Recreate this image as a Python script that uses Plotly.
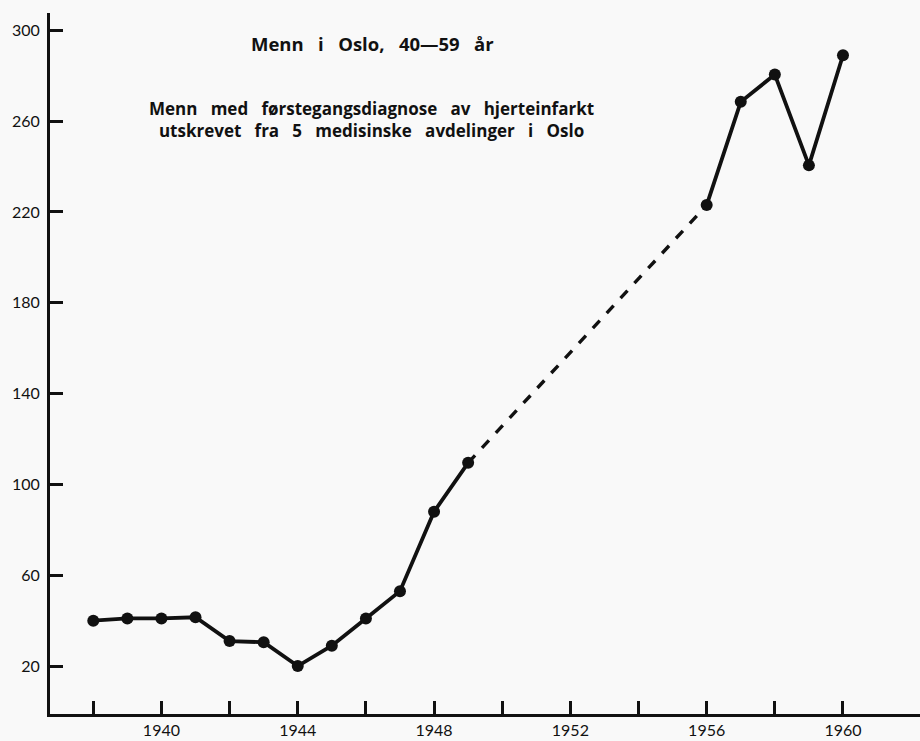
import plotly.graph_objects as go

years_a = [1938, 1939, 1940, 1941, 1942, 1943, 1944, 1945, 1946, 1947, 1948, 1949]
vals_a = [40, 41, 41, 41.5, 31, 30.5, 20, 29, 41, 53, 88, 109.5]
years_gap = [1949, 1956]
vals_gap = [109.5, 223]
years_b = [1956, 1957, 1958, 1959, 1960]
vals_b = [223, 268.5, 280.5, 240.5, 289]

x_ticks = list(range(1938, 1961, 2))
x_labels = [str(y) if y % 4 == 0 else "" for y in x_ticks]
y_ticks = [20, 60, 100, 140, 180, 220, 260, 300]

FONT = "Lato, 'Open Sans', sans-serif"
TFONT = "'Open Sans', Lato, sans-serif"
INK = "#111111"

fig = go.Figure()
fig.add_trace(go.Scatter(x=years_gap, y=vals_gap, mode="lines",
                         line=dict(color=INK, width=3.4, dash="dash"),
                         hoverinfo="skip", showlegend=False))
fig.add_trace(go.Scatter(x=years_a, y=vals_a, mode="lines+markers",
                         line=dict(color=INK, width=3.8),
                         marker=dict(color=INK, size=12), showlegend=False))
fig.add_trace(go.Scatter(x=years_b, y=vals_b, mode="lines+markers",
                         line=dict(color=INK, width=3.8),
                         marker=dict(color=INK, size=12), showlegend=False))

fig.update_layout(
    width=920, height=741,
    margin=dict(l=50, r=0, t=13, b=27),
    paper_bgcolor="#f9f9f9", plot_bgcolor="#f9f9f9",
    font=dict(family=FONT, color=INK, size=16),
    xaxis=dict(range=[1936.73, 1962.26], tickvals=x_ticks, ticktext=x_labels,
               ticks="inside", ticklen=13, tickwidth=2.5, tickcolor=INK,
               showline=True, linecolor=INK, linewidth=2.8, showgrid=False,
               zeroline=False, tickfont=dict(size=16, family=FONT),
               ticklabelstandoff=0),
    yaxis=dict(range=[-1.1, 307.6], tickvals=y_ticks,
               ticks="inside", ticklen=13, tickwidth=2.5, tickcolor=INK,
               showline=True, linecolor=INK, linewidth=2.8, showgrid=False,
               zeroline=False, tickfont=dict(size=16, family=FONT),
               ticklabelstandoff=4),
    annotations=[
        dict(text="<b>Menn   i   Oslo,   40—59   år</b>", xref="paper", yref="paper",
             x=0.371, y=0.957, xanchor="center", yanchor="middle",
             showarrow=False, font=dict(size=18.5, family=TFONT)),
        dict(text="<b>Menn   med   førstegangsdiagnose   av   hjerteinfarkt<br>"
                  "utskrevet   fra   5   medisinske   avdelinger   i   Oslo</b>",
             xref="paper", yref="paper", x=0.369, y=0.848,
             xanchor="center", yanchor="middle", showarrow=False,
             font=dict(size=17, family=TFONT), align="center"),
    ],
)

fig.write_html("out.html", config={"displayModeBar": False},
               post_script="document.body.style.margin='0';")
